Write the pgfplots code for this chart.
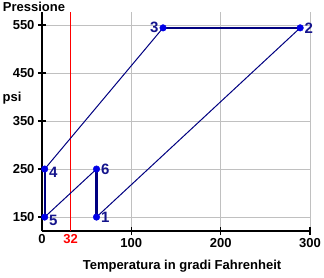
\documentclass[border=0pt]{standalone}
\usepackage{fontspec}
\setmainfont{Liberation Sans}
\usepackage{pgfplots}
\pgfplotsset{compat=1.18}
\definecolor{navyline}{RGB}{0,0,128}
\definecolor{markblue}{RGB}{0,0,230}
\definecolor{lblblue}{RGB}{20,20,140}
\definecolor{gridgray}{RGB}{192,192,192}
\begin{document}
\begin{tikzpicture}[x=1pt,y=1pt]
\useasboundingbox (0,0) rectangle (324,277);
\begin{axis}[
  scale only axis,
  at={(42pt,46pt)}, anchor=south west,
  width=268pt, height=219pt,
  xmin=0, xmax=300, ymin=121, ymax=577,
  axis x line=bottom, axis y line=left,
  axis line style={-, black, line width=1.6pt},
  xtick={100,200,300},
  extra x ticks={0,32},
  extra x tick labels={0,\textcolor{red}{32}},
  extra x tick style={major tick length=0pt, grid=none},
  ytick={150,250,350,450,550},
  grid=major,
  major grid style={gridgray, line width=0.8pt},
  tick align=center,
  major tick length=8pt,
  tick style={black, line width=1.6pt},
  /pgf/number format/assume math mode=true,
  ticklabel style={font=\fontsize{13}{13}\selectfont\bfseries},
  clip=false,
]
% red reference line at 32 F
\addplot[red, line width=0.8pt, forget plot] coordinates {(32,121) (32,577)};
% thin lines
\addplot[navyline, line width=1pt] coordinates {(61,150) (289,544)};
\addplot[navyline, line width=1pt] coordinates {(135.5,544) (3,250)};
\addplot[navyline, line width=1pt] coordinates {(3,150) (61,250)};
% thick lines
\addplot[navyline, line width=2.2pt] coordinates {(289,544) (135.5,544)};
\addplot[navyline, line width=2.2pt] coordinates {(3,250) (3,150)};
\addplot[navyline, line width=2.2pt] coordinates {(61,250) (61,150)};
% markers with labels on the right
\addplot[only marks, mark=*, mark size=3.3pt, markblue,
  nodes near coords, point meta=explicit symbolic,
  every node near coord/.style={anchor=west, xshift=1pt, text=lblblue,
    font=\fontsize{15}{15}\selectfont\bfseries}]
  table[meta=lbl] {
x y lbl
61 150 1
289 544 2
61 250 6
};
\addplot[only marks, mark=*, mark size=3.3pt, markblue,
  nodes near coords, point meta=explicit symbolic,
  every node near coord/.style={anchor=west, xshift=1pt, yshift=-3pt, text=lblblue,
    font=\fontsize{15}{15}\selectfont\bfseries}]
  table[meta=lbl] {
x y lbl
3 250 4
3 150 5
};
\addplot[only marks, mark=*, mark size=3.3pt, markblue,
  nodes near coords, point meta=explicit symbolic,
  every node near coord/.style={anchor=east, xshift=-1pt, text=lblblue,
    font=\fontsize{15}{15}\selectfont\bfseries}]
  table[meta=lbl] {
x y lbl
135.5 544 3
};
\end{axis}
\node[font=\fontsize{13}{13}\selectfont\bfseries] at (34,270) {Pressione};
\node[font=\fontsize{13}{13}\selectfont\bfseries] at (12,179) {psi};
\node[font=\fontsize{13}{13}\selectfont\bfseries] at (182,11) {Temperatura in gradi Fahrenheit};
\end{tikzpicture}
\end{document}
